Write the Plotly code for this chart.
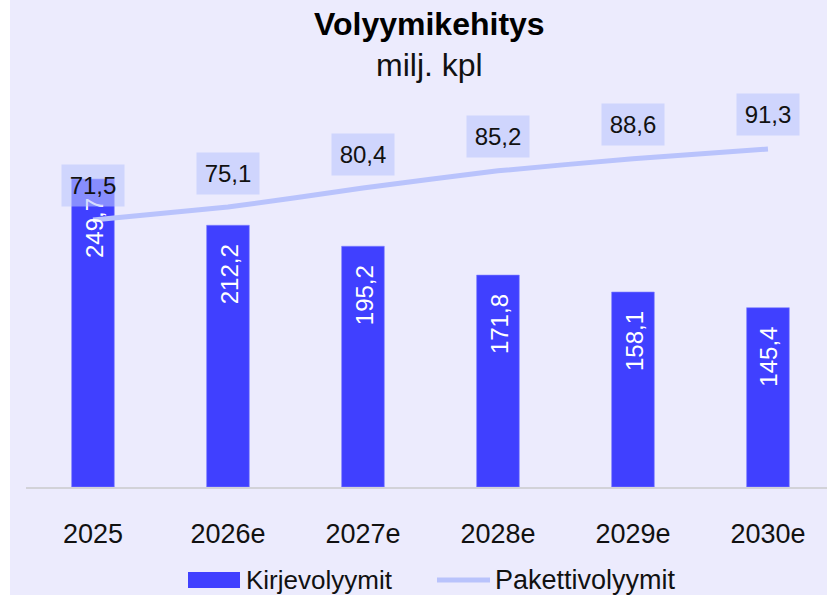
import plotly.graph_objects as go

# Data (milj. kpl)
years = ["2025", "2026e", "2027e", "2028e", "2029e", "2030e"]
letters = [249.7, 212.2, 195.2, 171.8, 158.1, 145.4]
parcels = [71.5, 75.1, 80.4, 85.2, 88.6, 91.3]
letters_name = "Kirjevolyymit"
parcels_name = "Pakettivolyymit"
title_text = "Volyymikehitys"
subtitle_text = "milj. kpl"

BG = "#ecebfd"
BAR = "#4040ff"
LINE = "#b9c3fc"
BOX = "rgba(186,196,253,0.58)"
TXT = "#111111"
FONT = "Liberation Sans, Arial, sans-serif"

W, H = 827, 595
ML, MR, MT, MB = 26, 0, 100, 108
PW, PH = W - ML - MR, H - MT - MB


def px_x(px):
    return (px - ML) / PW


def px_y(py):
    return (H - MB - py) / PH


def fmt(v):
    return f"{v:.1f}".replace(".", ",")


fig = go.Figure()

fig.add_trace(go.Bar(
    x=list(range(len(years))), y=letters, name=letters_name,
    marker=dict(color=BAR, line=dict(color="#7f7fff", width=0.6)),
    width=0.316, showlegend=False, hoverinfo="skip",
))

fig.add_trace(go.Scatter(
    x=list(range(len(years))), y=parcels, name=parcels_name, yaxis="y2",
    mode="lines", line=dict(color=LINE, width=5, shape="spline", smoothing=0.3),
    showlegend=False, hoverinfo="skip",
))

annotations = []

# Rotated value labels inside the bars
for i, v in enumerate(letters):
    annotations.append(dict(
        x=i, y=v, xref="x", yref="y", text=fmt(v), textangle=-90,
        showarrow=False, xanchor="center", yanchor="top", yshift=-17, xshift=1,
        font=dict(family=FONT, size=24, color="white"),
    ))

# Boxed value labels above the line
for i, v in enumerate(parcels):
    annotations.append(dict(
        x=i, y=v, xref="x", yref="y2", text=fmt(v),
        showarrow=False, xanchor="center", yanchor="middle", yshift=34,
        width=50, height=29, borderpad=6, bgcolor=BOX,
        font=dict(family=FONT, size=24, color=TXT),
    ))

# Title and subtitle
annotations.append(dict(
    x=px_x(429), y=px_y(24), xref="paper", yref="paper", text=f"<b>{title_text}</b>",
    showarrow=False, xanchor="center", yanchor="middle",
    font=dict(family=FONT, size=32, color="black"),
))
annotations.append(dict(
    x=px_x(429), y=px_y(65), xref="paper", yref="paper", text=subtitle_text,
    showarrow=False, xanchor="center", yanchor="middle",
    font=dict(family=FONT, size=32, color=TXT),
))

# Legend
annotations.append(dict(
    x=px_x(244), y=px_y(580), xref="paper", yref="paper", text=letters_name,
    showarrow=False, xanchor="left", yanchor="middle",
    font=dict(family=FONT, size=26, color=TXT),
))
annotations.append(dict(
    x=px_x(493), y=px_y(580), xref="paper", yref="paper", text=parcels_name,
    showarrow=False, xanchor="left", yanchor="middle",
    font=dict(family=FONT, size=27, color=TXT),
))

shapes = [
    # white strip on the left edge
    dict(type="rect", xref="paper", yref="paper", x0=px_x(-2), x1=px_x(10),
         y0=px_y(H + 5), y1=px_y(-5), fillcolor="white", line=dict(width=0), layer="above"),
    # legend swatches
    dict(type="rect", xref="paper", yref="paper", x0=px_x(188), x1=px_x(240),
         y0=px_y(588), y1=px_y(572), fillcolor=BAR, line=dict(width=0)),
    dict(type="line", xref="paper", yref="paper", x0=px_x(437), x1=px_x(490),
         y0=px_y(580), y1=px_y(580), line=dict(color=LINE, width=5)),
]

y1_scale = 1.2333   # px per unit, bars
y2_scale = 3.586    # px per unit, line
y2_min = -2.96

fig.update_layout(
    width=W, height=H,
    margin=dict(l=ML, r=MR, t=MT, b=MB, pad=0),
    paper_bgcolor=BG, plot_bgcolor=BG,
    xaxis=dict(
        tickmode="array", tickvals=list(range(len(years))), ticktext=years,
        range=[-0.496, -0.496 + PW / 135.0],
        showgrid=False, zeroline=False, showline=True, linecolor="#d2d2d8", linewidth=2,
        ticks="", ticklabelstandoff=22,
        tickfont=dict(family=FONT, size=27, color=TXT),
    ),
    yaxis=dict(range=[0, PH / y1_scale], visible=False, showgrid=False, zeroline=False),
    yaxis2=dict(range=[y2_min, y2_min + PH / y2_scale], overlaying="y", side="right",
                visible=False, showgrid=False, zeroline=False),
    annotations=annotations,
    shapes=shapes,
    showlegend=False,
)

fig.write_html("out.html")
